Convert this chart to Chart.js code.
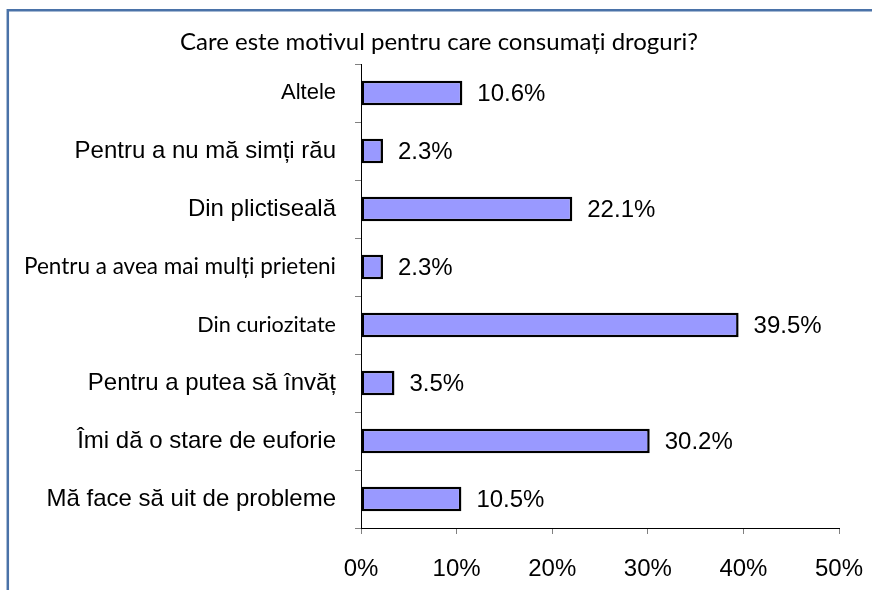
<!DOCTYPE html>
<html>
<head>
<meta charset="utf-8">
<script src="https://cdn.jsdelivr.net/npm/chart.js@4.4.1/dist/chart.umd.min.js"></script>
<style>
  html, body { margin: 0; padding: 0; background: #ffffff; }
  #wrap { width: 872px; height: 590px; position: relative; }
</style>
</head>
<body>
<div id="wrap"><canvas id="c" width="872" height="590"></canvas></div>
<script>
// Survey question and answers (percent of respondents)
const chartTitle = 'Care este motivul pentru care consumați droguri?';
const categories = [
  'Altele',
  'Pentru a nu mă simți rău',
  'Din plictiseală',
  'Pentru a avea mai mulți prieteni',
  'Din curiozitate',
  'Pentru a putea să învăț',
  'Îmi dă o stare de euforie',
  'Mă face să uit de probleme'
];
const values = [10.6, 2.3, 22.1, 2.3, 39.5, 3.5, 30.2, 10.5];
const valueLabels = ['10.6%', '2.3%', '22.1%', '2.3%', '39.5%', '3.5%', '30.2%', '10.5%'];
const xTicks = [0, 10, 20, 30, 40, 50];

// Some answers were typeset in a different face than the others
const ARIAL = 'Liberation Sans, Arial, sans-serif';
const CALIBRI = 'Lato, Carlito, Calibri, sans-serif';
const labelFonts = [
  { family: ARIAL, size: 22 },
  { family: ARIAL, size: 24 },
  { family: ARIAL, size: 24 },
  { family: CALIBRI, size: 22.5 },
  { family: CALIBRI, size: 21.6 },
  { family: ARIAL, size: 24 },
  { family: ARIAL, size: 24 },
  { family: ARIAL, size: 24 }
];

// Blue frame around the chart object, plus the question as heading
const framePlugin = {
  id: 'frame',
  beforeDraw(chart) {
    const ctx = chart.ctx;
    ctx.save();
    ctx.fillStyle = '#ffffff';
    ctx.fillRect(0, 0, chart.width, chart.height);
    ctx.strokeStyle = '#4a72a8';
    ctx.lineWidth = 2.5;
    ctx.beginPath();
    ctx.moveTo(7.8, chart.height + 5);
    ctx.lineTo(7.8, 10.3);
    ctx.lineTo(chart.width + 5, 10.3);
    ctx.stroke();

    ctx.fillStyle = '#000000';
    ctx.font = '24px Lato, Carlito, Calibri, sans-serif';
    ctx.textAlign = 'center';
    ctx.textBaseline = 'middle';
    ctx.fillText(chartTitle, 439, 42);
    ctx.restore();
  }
};

// Percentage text written to the right of each bar
const valueLabelPlugin = {
  id: 'valueLabels',
  afterDatasetsDraw(chart) {
    const ctx = chart.ctx;
    const meta = chart.getDatasetMeta(0);
    ctx.save();
    ctx.fillStyle = '#000000';
    ctx.font = '24px "Liberation Sans", Arial, sans-serif';
    ctx.textAlign = 'left';
    ctx.textBaseline = 'middle';
    meta.data.forEach((bar, i) => {
      ctx.fillText(valueLabels[i], bar.x + 15, bar.y + 1);
    });
    ctx.restore();
  }
};

new Chart(document.getElementById('c'), {
  type: 'bar',
  data: {
    labels: categories,
    datasets: [{
      data: values,
      backgroundColor: '#9999ff',
      borderColor: '#000000',
      borderWidth: 2.5,
      borderSkipped: false,
      categoryPercentage: 1,
      barPercentage: 0.425
    }]
  },
  options: {
    indexAxis: 'y',
    responsive: false,
    animation: false,
    devicePixelRatio: 1,
    layout: { padding: { left: 0, right: 33, top: 64, bottom: 0 } },
    plugins: {
      legend: { display: false },
      tooltip: { enabled: false },
      title: { display: false }
    },
    scales: {
      x: {
        min: 0,
        max: 50,
        afterBuildTicks(scale) {
          scale.ticks = xTicks.map(v => ({ value: v }));
        },
        afterFit(scale) {
          scale.height = 62;
          scale.paddingLeft = 0;
          scale.paddingRight = 0;
        },
        border: { display: true, color: '#000000', width: 1 },
        grid: { drawOnChartArea: false, drawTicks: true, tickLength: 6, color: '#808080' },
        ticks: {
          color: '#000000',
          padding: 21,
          maxRotation: 0,
          font: { family: ARIAL, size: 24 },
          callback: v => v + '%'
        }
      },
      y: {
        afterFit(scale) {
          scale.width = 361;
          scale.paddingTop = 0;
          scale.paddingBottom = 0;
        },
        border: { display: true, color: '#000000', width: 1 },
        grid: { drawOnChartArea: false, drawTicks: true, tickLength: 6, color: '#808080', offset: true },
        ticks: {
          color: '#000000',
          padding: 19,
          autoSkip: false,
          font: ctx => labelFonts[ctx.index] || labelFonts[1]
        }
      }
    }
  },
  plugins: [framePlugin, valueLabelPlugin]
});
</script>
</body>
</html>
